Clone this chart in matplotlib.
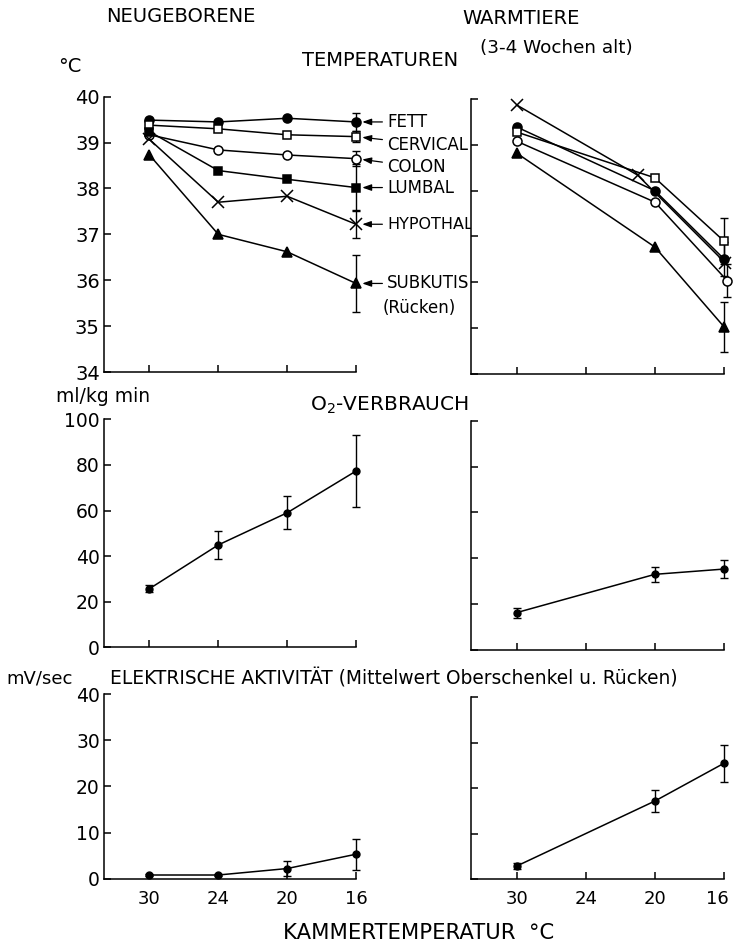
# Körpertemperaturen, O2-Verbrauch und elektrische Aktivität
# Neugeborene vs. Warmtiere bei verschiedenen Kammertemperaturen
import numpy as np
import matplotlib
matplotlib.use('Agg')
import matplotlib.pyplot as plt
from matplotlib.transforms import ScaledTranslation

plt.rcParams['font.family'] = ['DejaVu Sans']

# Kammertemperaturen (Kategorien, gleichabständig)
kammer = [30, 24, 20, 16]
warm_idx = [0, 2, 3]          # Warmtiere: nur 30, 20, 16 gemessen

# --- Temperaturen, Neugeborene (°C) ---
neu_fett = [39.49, 39.45, 39.53, 39.45]
neu_fett_err = [0, 0, 0, 0.20]
neu_cervical = [39.38, 39.30, 39.17, 39.13]
neu_cervical_err = [0, 0, 0, 0.12]
neu_colon = [39.17, 38.84, 38.73, 38.65]
neu_colon_err = [0, 0, 0, 0.17]
neu_lumbal = [39.24, 38.39, 38.20, 38.02]
neu_lumbal_err = [0, 0, 0, 0.52]
neu_hypothal = [39.07, 37.70, 37.83, 37.22]
neu_hypothal_err = [0, 0, 0, 0.30]
neu_subkutis = [38.73, 37.00, 36.62, 35.93]
neu_subkutis_err = [0, 0, 0, 0.62]

# --- Temperaturen, Warmtiere (°C) ---
warm_fett = [39.39, 38.00, 36.51]
warm_fett_err = [0, 0, 0.38]
warm_cervical = [39.28, 38.28, 36.90]
warm_cervical_err = [0, 0, 0.50]
warm_colon = [39.08, 37.75, 36.03]
warm_colon_err = [0, 0, 0.36]
warm_hypothal = [39.87, 38.34, 36.42]
warm_hypothal_err = [0, 0, 0]
warm_subkutis = [38.82, 36.77, 35.03]
warm_subkutis_err = [0, 0, 0.55]

# --- O2-Verbrauch (ml/kg min) ---
neu_o2 = [25.7, 44.9, 59.0, 77.3]
neu_o2_err = [1.5, 6.0, 7.2, 15.7]
warm_o2 = [16.3, 33.0, 35.3]
warm_o2_err = [2.2, 3.3, 4.0]

# --- elektrische Aktivität (mV/sec) ---
neu_el = [0.8, 0.8, 2.2, 5.3]
neu_el_err = [0.3, 0.3, 1.6, 3.4]
warm_el = [2.9, 17.2, 25.5]
warm_el_err = [0.6, 2.4, 4.1]

# Stil je Messort: marker, gefüllt?, Größe
stil = {
    'FETT':     ('o', True, 6.5),
    'CERVICAL': ('s', False, 5.5),
    'COLON':    ('o', False, 6.5),
    'LUMBAL':   ('s', True, 5.5),
    'HYPOTHAL': ('x', True, 8.5),
    'SUBKUTIS': ('^', True, 6.5),
}
# kleine seitliche Versätze (wie im Original, gegen Überdeckung)
warm_versatz = {'HYPOTHAL': [0, -0.25, 0.02], 'COLON': [0, 0, 0.05]}

W, H = 733, 947
fig = plt.figure(figsize=(W / 100, H / 100), dpi=100)


def achse(x0, x1, y_top, y_bot):
    # Achse aus Pixelkoordinaten anlegen
    ax = fig.add_axes([x0 / W, 1 - y_bot / H, (x1 - x0) / W, (y_bot - y_top) / H])
    ax.spines['top'].set_visible(False)
    ax.spines['right'].set_visible(False)
    for s in ('left', 'bottom'):
        ax.spines[s].set_linewidth(1.1)
    ax.tick_params(direction='in', length=5, width=1.1, labelsize=13.5, pad=3)
    ax.set_xlim(-0.66, 3)
    ax.set_xticks(range(len(kammer)))
    ax.set_xticklabels([])
    return ax


def kurve(ax, xs, ys, err, name, dx=None):
    m, gefuellt, ms = stil[name]
    xs = np.array(xs, dtype=float)
    if dx is not None:
        xs = xs + np.array(dx)
    err = np.array(err)
    ax.plot(xs, ys, color='black', lw=1.1, marker=m, ms=ms,
            mfc='black' if gefuellt else 'white', mec='black', mew=1.1,
            clip_on=False, zorder=3)
    sel = err > 0
    if sel.any():
        ax.errorbar(xs[sel], np.array(ys)[sel], yerr=err[sel], fmt='none',
                    ecolor='black', elinewidth=1.0, capsize=3, capthick=1.0,
                    clip_on=False, zorder=2)


def einfach(ax, xs, ys, err):
    ax.errorbar(xs, ys, yerr=err, color='black', lw=1.1, marker='o', ms=5,
                ecolor='black', elinewidth=1.0, capsize=3, capthick=1.0,
                clip_on=False, zorder=3)


# ---------------- Temperaturen ----------------
ax1 = achse(104, 356, 96.7, 372)
ax1.set_ylim(34, 40)
ax1.set_yticks(range(34, 41))
ax1.tick_params(axis='y', labelsize=14)

neu = [('FETT', neu_fett, neu_fett_err, 0),
       ('CERVICAL', neu_cervical, neu_cervical_err, -5.8),
       ('COLON', neu_colon, neu_colon_err, -5.8),
       ('LUMBAL', neu_lumbal, neu_lumbal_err, 0),
       ('HYPOTHAL', neu_hypothal, neu_hypothal_err, 0),
       ('SUBKUTIS', neu_subkutis, neu_subkutis_err, 0)]
for name, ys, err, dy in neu:
    kurve(ax1, range(4), ys, err, name)
    ax1.annotate(name, xy=(3, ys[-1]), xytext=(22.5, dy), textcoords='offset points',
                 ha='left', va='center', fontsize=11.5 if name == 'HYPOTHAL' else 12,
                 annotation_clip=False,
                 arrowprops=dict(arrowstyle='-|>,head_length=0.45,head_width=0.16',
                                 color='black', lw=0.9, shrinkA=1.5, shrinkB=4.5))
ax1.annotate('(Rücken)', xy=(3, neu_subkutis[-1]), xytext=(19.5, -17.5),
             textcoords='offset points', ha='left', va='center', fontsize=12,
             annotation_clip=False)

ax2 = achse(471, 724, 99, 374)
ax2.set_ylim(34, 40)
ax2.set_yticks(range(34, 41))
ax2.set_yticklabels([])
warm = [('FETT', warm_fett, warm_fett_err),
        ('CERVICAL', warm_cervical, warm_cervical_err),
        ('COLON', warm_colon, warm_colon_err),
        ('HYPOTHAL', warm_hypothal, warm_hypothal_err),
        ('SUBKUTIS', warm_subkutis, warm_subkutis_err)]
for name, ys, err in warm:
    kurve(ax2, warm_idx, ys, err, name, warm_versatz.get(name))

# ---------------- O2-Verbrauch ----------------
ax3 = achse(104, 356, 419.3, 647.3)
ax3.set_ylim(0, 100)
ax3.set_yticks(range(0, 101, 20))
einfach(ax3, range(4), neu_o2, neu_o2_err)

ax4 = achse(471, 724, 420.7, 650)
ax4.set_ylim(0, 100)
ax4.set_yticks(range(0, 101, 20))
ax4.set_yticklabels([])
einfach(ax4, warm_idx, warm_o2, warm_o2_err)

# ---------------- elektrische Aktivität ----------------
ax5 = achse(104, 356, 694, 878.7)
ax5.set_ylim(0, 40)
ax5.set_yticks(range(0, 41, 10))
ax5.set_xticklabels(kammer)
einfach(ax5, range(4), neu_el, neu_el_err)

ax6 = achse(471, 724, 697.3, 879.3)
ax6.set_ylim(0, 40)
ax6.set_yticks(range(0, 41, 10))
ax6.set_yticklabels([])
ax6.set_xticklabels(kammer)
einfach(ax6, warm_idx, warm_el, warm_el_err)

for ax in (ax5, ax6):
    ax.tick_params(axis='x', pad=8, labelsize=13)

# letzte Beschriftung "16" rechts etwas nach innen, damit sie im Bild bleibt
lbl = ax6.get_xticklabels()[-1]
lbl.set_transform(lbl.get_transform() + ScaledTranslation(-5 / 72, 0, fig.dpi_scale_trans))


# ---------------- Beschriftungen ----------------
def txt(x, y, s, **kw):
    fig.text(x / W, 1 - y / H, s, ha='center', va='center', **kw)


txt(181, 17, 'NEUGEBORENE', fontsize=14)
txt(521, 18, 'WARMTIERE', fontsize=14)
txt(556, 48, '(3-4 Wochen alt)', fontsize=13.2)
txt(380, 60, 'TEMPERATUREN', fontsize=14)
txt(70, 66, '°C', fontsize=14)
txt(103, 396, 'ml/kg min', fontsize=13.5)
txt(389, 405, r'O$_2$-VERBRAUCH', fontsize=14.5)
txt(40, 678, 'mV/sec', fontsize=13)
txt(394, 678, 'ELEKTRISCHE AKTIVITÄT (Mittelwert Oberschenkel u. Rücken)', fontsize=13.4)
txt(419, 933, 'KAMMERTEMPERATUR  °C', fontsize=15.2)

fig.savefig('out.png', dpi=100)
